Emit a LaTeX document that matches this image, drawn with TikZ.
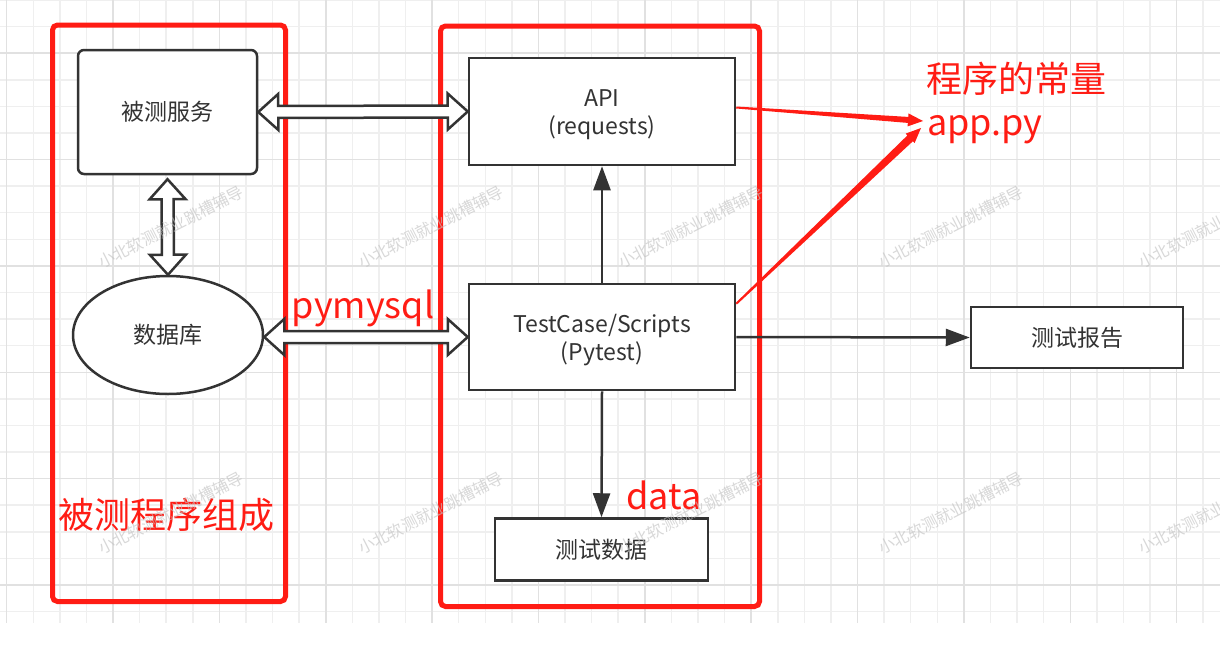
\documentclass[tikz,border=0pt]{standalone}
\usepackage{fontspec}
\setmainfont{Noto Sans CJK SC}
\usetikzlibrary{shapes.geometric,arrows.meta,calc}
\definecolor{redmark}{RGB}{255,28,20}
\definecolor{boxline}{RGB}{51,51,51}
\definecolor{gridminor}{RGB}{239,239,239}
\definecolor{gridmajor}{RGB}{225,225,225}
\definecolor{wmark}{RGB}{195,195,195}
\newcommand\hollowdbl[2]{%
  \draw[hollow] (#1) -- ($(#1)!20pt!(#2)!18pt!90:(#2)$) -- ($(#1)!20pt!(#2)!6pt!90:(#2)$)
   -- ($(#2)!20pt!(#1)!6pt!-90:(#1)$) -- ($(#2)!20pt!(#1)!18pt!-90:(#1)$) -- (#2)
   -- ($(#2)!20pt!(#1)!18pt!90:(#1)$) -- ($(#2)!20pt!(#1)!6pt!90:(#1)$)
   -- ($(#1)!20pt!(#2)!6pt!-90:(#2)$) -- ($(#1)!20pt!(#2)!18pt!-90:(#2)$) -- cycle;}
\newcommand\taperarrow[3]{%
  \fill[redmark] ($(#1)!1pt!90:(#2)$) -- ($(#2)!15pt!(#1)!#3!-90:(#1)$) -- ($(#2)!15pt!(#1)!6.5pt!-90:(#1)$)
   -- (#2) -- ($(#2)!15pt!(#1)!6.5pt!90:(#1)$) -- ($(#2)!15pt!(#1)!#3!90:(#1)$)
   -- ($(#1)!1pt!-90:(#2)$) -- cycle;}
\newcommand\twolines[2]{\raisebox{-3.5pt}[\height][\depth]{\begin{tabular}{@{}c@{}}#1\\#2\end{tabular}}}
\begin{document}
\begin{tikzpicture}[x=1pt,y=-1pt,
  blk/.style={draw=boxline, line width=2.5pt, fill=white, text=boxline,
    font=\fontsize{23}{28}\selectfont, align=center, inner sep=0pt},
  hollow/.style={draw=boxline, line width=2.5pt, fill=white, line join=miter},
  conn/.style={draw=boxline, line width=2.5pt, -{Triangle[length=24pt 0 0,width=17pt 0 0]}},
  redframe/.style={draw=redmark, line width=5pt, rounded corners=5pt, inner sep=0pt},
  redtxt/.style={text=redmark, font=\fontsize{36}{40}\selectfont, inner sep=0pt},
  wm/.style={text=wmark, opacity=0.65, font=\fontsize{16}{18}\selectfont, rotate=27, inner sep=0pt}]
\useasboundingbox (0,0) rectangle (1220,645);
\fill[white] (0,0) rectangle (1220,645);
% grid
\foreach \k in {0,...,45}{\draw[gridminor,line width=1.5pt] ({6.67+26.59*\k},0) -- ({6.67+26.59*\k},623);}
\foreach \k in {0,...,23}{\draw[gridminor,line width=1.5pt] (0,{26.59*\k}) -- (1220,{26.59*\k});}
\foreach \k in {0,4,...,44}{\draw[gridmajor,line width=1.5pt] ({6.67+26.59*\k},0) -- ({6.67+26.59*\k},623);}
\foreach \k in {2,6,...,22}{\draw[gridmajor,line width=1.5pt] (0,{26.59*\k}) -- (1220,{26.59*\k});}

% red group frames
\node[redframe, minimum width=233pt, minimum height=576.5pt] (grpL) at (169,313.25) {};
\node[redframe, minimum width=319pt, minimum height=580.5pt] (grpR) at (600,316.25) {};

% nodes
\node[blk, rounded corners=6pt, minimum width=179pt, minimum height=124pt] (svc) at (167.5,112) {被测服务};
\node[blk, ellipse, minimum width=190pt, minimum height=118pt] (db) at (168,335) {数据库};
\node[blk, minimum width=266pt, minimum height=107pt] (api) at (602,111.5) {\twolines{API}{(requests)}};
\node[blk, minimum width=266pt, minimum height=106pt] (tc) at (602,337) {\twolines{TestCase/Scripts}{(Pytest)}};
\node[blk, minimum width=213pt, minimum height=62pt] (tdata) at (601.5,549.5) {测试数据};
\node[blk, minimum width=212pt, minimum height=61pt] (rep) at (1077,337.5) {测试报告};

% hollow double arrows
\coordinate (vA) at ($(svc.south)+(0,4)$);
\hollowdbl{vA}{db.north}
\hollowdbl{svc.east}{api.west}
\coordinate (pA) at (db.east |- tc.west);
\hollowdbl{pA}{tc.west}

% black arrows
\draw[conn] (tc.north) -- (api.south);
\draw[conn] (tc.south) -- (tdata.north);
\draw[conn] (tc.east) -- (rep.west);

% red labels
\node[redtxt, anchor=base] (lpy) at (363,318) {pymysql};
\node[redtxt, anchor=base] (ldata) at (664,509) {data};
\node[redtxt] (lgrp) at (166,515) {被测程序组成};
\node[redtxt] (lconst) at (1016,79) {程序的常量};
\node[redtxt, anchor=base west] (lapp) at (927,135) {app.py};

% red arrows
\coordinate (rsA) at ($(api.east)+(0,-4)$);
\coordinate (rsB) at ($(tc.north east)+(0,21)$);
\coordinate (tipA) at (923,121);
\coordinate (tipB) at (921,128);
\taperarrow{rsA}{tipA}{3pt}
\taperarrow{rsB}{tipB}{4pt}

% watermarks
\foreach \wx in {171,431,691,951,1211}{
  \foreach \wy in {227,513}{
    \node[wm] (wm-\wx-\wy) at (\wx,\wy) {小北软测就业跳槽辅导};}}
\end{tikzpicture}
\end{document}
